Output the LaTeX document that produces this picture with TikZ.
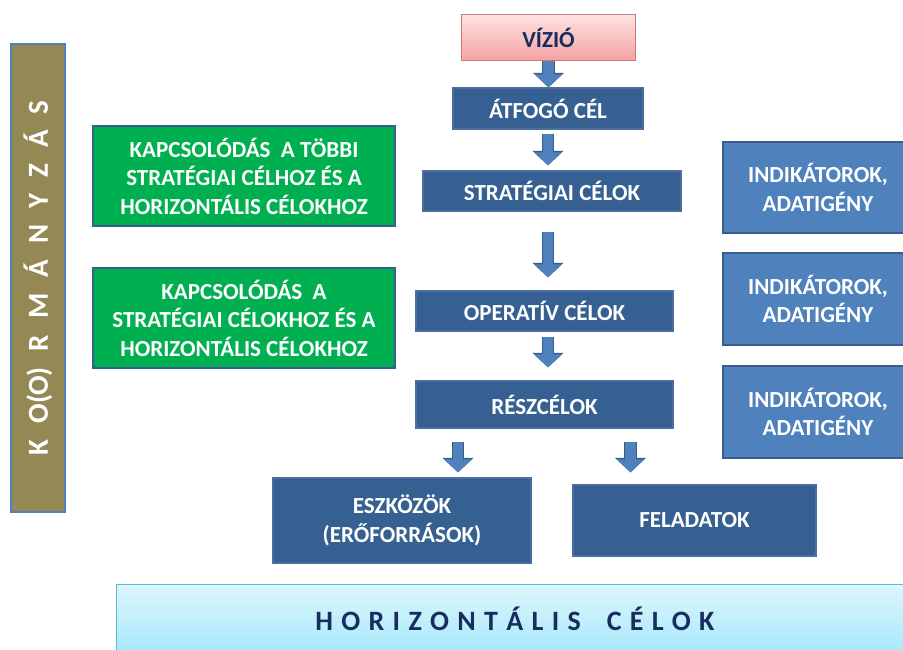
\documentclass[tikz,border=0pt]{standalone}
\usepackage{fontspec}
\setmainfont{Carlito}
\usetikzlibrary{arrows.meta}
\definecolor{darkbox}{RGB}{55,96,146}
\definecolor{darkline}{RGB}{75,110,160}
\definecolor{lightbox}{RGB}{79,129,189}
\definecolor{boxline}{RGB}{56,93,138}
\definecolor{greenbox}{RGB}{0,176,80}
\definecolor{olivebar}{RGB}{148,136,84}
\definecolor{navytext}{RGB}{23,45,94}
\definecolor{pinktop}{RGB}{255,226,226}
\definecolor{pinkbot}{RGB}{244,162,162}
\definecolor{pinkline}{RGB}{205,120,120}
\definecolor{cyantop}{RGB}{222,246,253}
\definecolor{cyanbot}{RGB}{165,232,250}
\definecolor{cyanline}{RGB}{90,185,220}
\newcommand\boxfont{\fontsize{23}{28.5}\selectfont\bfseries}

\begin{document}
\begin{tikzpicture}[x=1pt,y=-1pt,
	goal/.style={rectangle, fill=darkbox, draw=darkline, line width=1.2pt, text=white, font=\boxfont, align=center, inner sep=0pt},
	link/.style={goal, fill=greenbox, draw=boxline, minimum width=302pt, minimum height=100pt},
	indicator/.style={goal, fill=lightbox, draw=boxline, line width=1.5pt, minimum width=190pt},
	blockarrow/.style={draw=lightbox, line width=10.5pt, -{Triangle[width=27pt,length=13pt]},
		preaction={draw=boxline, line width=12.5pt, -{Triangle[width=30pt,length=14.5pt]}}}]
	\useasboundingbox (0,0) rectangle (903,649);
	\clip (0,0) rectangle (903,649);
	\node (korm) at (38,278) [rotate=90, rectangle, fill=olivebar, draw=lightbox, line width=1.5pt, minimum width=468pt, minimum height=54pt, text=white, font=\fontsize{29}{32}\selectfont\bfseries]	{\spaceskip=16pt K O(O) R M Á N Y Z Á S};
	\node (vizio) at (548.5,37.5) [rectangle, top color=pinktop, bottom color=pinkbot, draw=pinkline, line width=1pt, minimum width=174pt, minimum height=46pt, text=navytext, font=\boxfont]	{VÍZIÓ};
	\node (atfogo) at (548,108.5) [goal, minimum width=190pt, minimum height=41pt]	{ÁTFOGÓ CÉL};
	\node (strat) at (552,191) [goal, minimum width=258pt, minimum height=40pt]	{STRATÉGIAI CÉLOK};
	\node (oper) at (544.5,311) [goal, minimum width=257pt, minimum height=40pt]	{OPERATÍV CÉLOK};
	\node (resz) at (544.5,404.5) [goal, minimum width=257pt, minimum height=47pt]	{RÉSZCÉLOK};
	\node (eszk) at (402,520.5) [goal, minimum width=258pt, minimum height=85pt]	{ESZKÖZÖK\\(ERŐFORRÁSOK)};
	\node (felad) at (694.5,520.5) [goal, minimum width=243pt, minimum height=71pt]	{FELADATOK};
	\node (link1) at (244,176) [link]	{KAPCSOLÓDÁS\ \ A TÖBBI\\STRATÉGIAI CÉLHOZ ÉS A\\HORIZONTÁLIS CÉLOKHOZ};
	\node (link2) at (244,318) [link]	{KAPCSOLÓDÁS\ \ A\\STRATÉGIAI CÉLOKHOZ ÉS A\\HORIZONTÁLIS CÉLOKHOZ};
	\node (ind1) at (818,187.5) [indicator, minimum height=91pt]	{INDIKÁTOROK,\\ADATIGÉNY};
	\node (ind2) at (818,299) [indicator, minimum height=92pt]	{INDIKÁTOROK,\\ADATIGÉNY};
	\node (ind3) at (818,412) [indicator, minimum height=92pt]	{INDIKÁTOROK,\\ADATIGÉNY};
	\node (horiz) at (515,619) [rectangle, top color=cyantop, bottom color=cyanbot, draw=cyanline, line width=1pt, minimum width=798pt, minimum height=70pt, text=navytext, font=\fontsize{28}{32}\selectfont\bfseries]	{\spaceskip=8.3pt H O R I Z O N T Á L I S\hspace{26pt}C É L O K};
	\draw[blockarrow] (vizio.south) -- (vizio.south |- atfogo.north);
	\draw[blockarrow, shorten <=4pt, shorten >=5pt] (atfogo.south) -- (atfogo.south |- strat.north);
	\draw[blockarrow, shorten <=20pt, shorten >=13pt] (atfogo.south |- strat.south) -- (atfogo.south |- oper.north);
	\draw[blockarrow, shorten <=5pt, shorten >=13pt] (atfogo.south |- oper.south) -- (atfogo.south |- resz.north);
	\draw[blockarrow, shorten <=13pt, shorten >=5pt] ([xshift=-86.5pt]resz.south) -- ([xshift=-86.5pt]resz.south |- eszk.north);
	\draw[blockarrow, shorten <=13pt, shorten >=12pt] ([xshift=86pt]resz.south) -- ([xshift=86pt]resz.south |- felad.north);
\end{tikzpicture}
\end{document}
